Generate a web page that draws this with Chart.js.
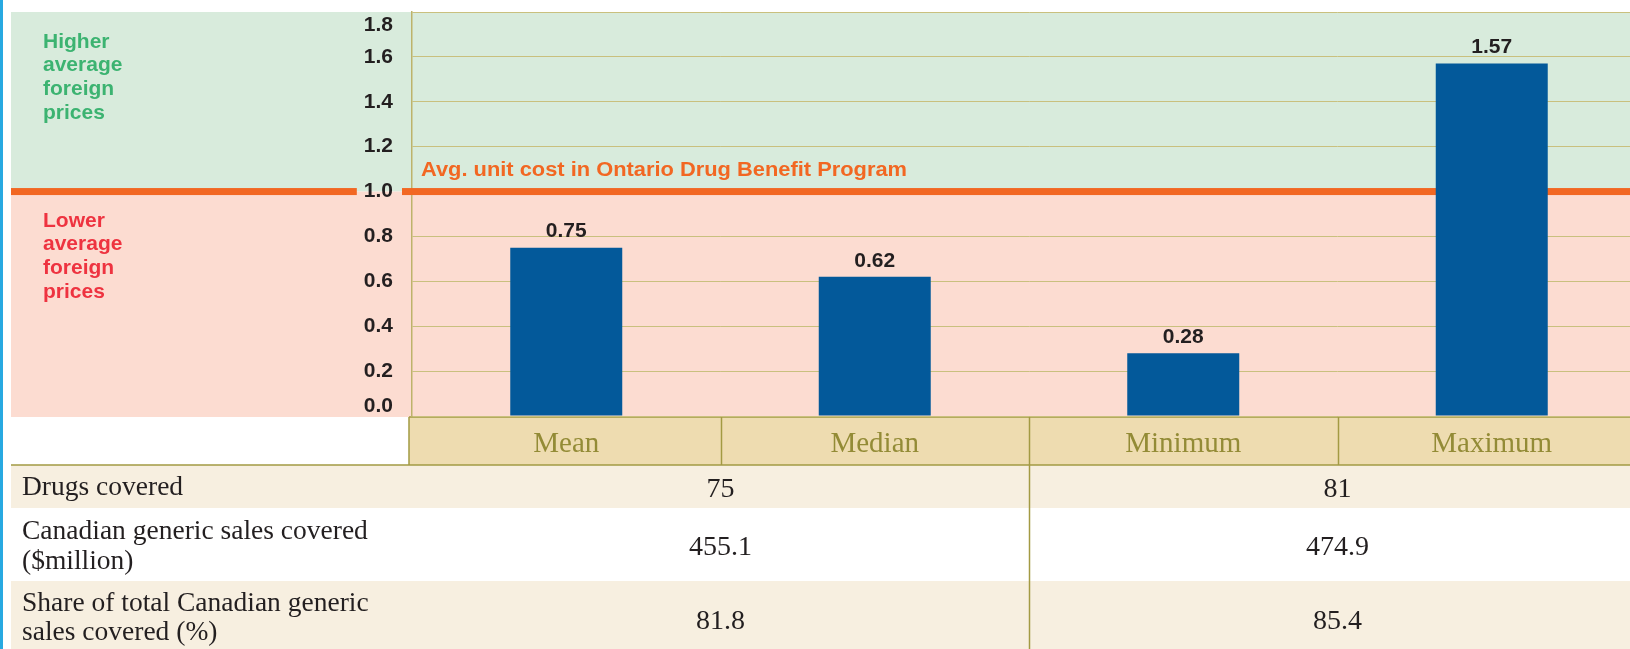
<!DOCTYPE html>
<html><head><meta charset="utf-8">
<script src="https://cdn.jsdelivr.net/npm/chart.js@4"></script>
<style>
html,body{margin:0;padding:0;overflow:hidden;background:#fff;width:1630px;height:649px}
#wrap{position:relative;width:1650px;height:649px}
canvas{display:block}
</style></head><body>
<div id="wrap"><canvas id="c" width="1650" height="649"></canvas></div>
<script>
// ---- data ----
const categories = ['Mean', 'Median', 'Minimum', 'Maximum'];
const ratios = [0.75, 0.62, 0.28, 1.57];
const yTicks = [0.0, 0.2, 0.4, 0.6, 0.8, 1.0, 1.2, 1.4, 1.6, 1.8];
const referenceLevel = 1.0;
const referenceLabel = 'Avg. unit cost in Ontario Drug Benefit Program';
const higherLabel = ['Higher', 'average', 'foreign', 'prices'];
const lowerLabel = ['Lower', 'average', 'foreign', 'prices'];
const rowLabels = [['Drugs covered'], ['Canadian generic sales covered', '($million)'], ['Share of total Canadian generic', 'sales covered (%)']];
const groupMeanMedian = ['75', '455.1', '81.8'];
const groupMinMax = ['81', '474.9', '85.4'];

// ---- styles ----
const C = {
  cyan: '#27a9e1', green: '#d8ebdc', pink: '#fcdcd1', orange: '#f26722',
  greenText: '#3cb371', redText: '#ee3340', bar: '#03599a', grid: '#c9c07e',
  axis: '#bdb36b', header: '#eedcb0', row: '#f7efe0', line: '#a39a43',
  headText: '#938b36', text: '#231f20'
};
const SANS = '"Liberation Sans", Arial, sans-serif';
const SERIF = '"Liberation Serif", "Times New Roman", serif';
const rowsGeom = [{top: 465, h: 43, fill: C.row}, {top: 508, h: 73, fill: '#ffffff'}, {top: 581, h: 90, fill: C.row}];
const rowTextY = [[488], [532, 562], [604, 633]];
const rowValueY = [490, 548, 622];

const decor = {
  id: 'decor',
  beforeDraw(chart) {
    const {ctx, chartArea: a, scales: {x, y}} = chart;
    const W = chart.width, H = chart.height;
    ctx.save();
    ctx.fillStyle = '#fff'; ctx.fillRect(0, 0, W, H);
    ctx.fillStyle = C.cyan; ctx.fillRect(0, 0, 3, H);
    const yTop = y.getPixelForValue(y.max), yRef = y.getPixelForValue(referenceLevel), y0 = y.getPixelForValue(0);
    ctx.fillStyle = C.green; ctx.fillRect(11, yTop, W - 11, yRef - yTop);
    ctx.fillStyle = C.pink; ctx.fillRect(11, yRef, W - 11, y0 - yRef + 1);
    // table
    const hTop = y0 + 1, hBot = rowsGeom[0].top;
    const hl = a.left - 3;
    ctx.fillStyle = C.header; ctx.fillRect(hl, hTop, W - hl, hBot - hTop);
    rowsGeom.forEach(r => { ctx.fillStyle = r.fill; ctx.fillRect(11, r.top, W - 11, r.h); });
    ctx.strokeStyle = C.line; ctx.lineWidth = 1.5;
    ctx.beginPath();
    ctx.moveTo(hl, hTop); ctx.lineTo(W, hTop);
    ctx.moveTo(11, hBot); ctx.lineTo(W, hBot);
    ctx.moveTo(hl, hTop); ctx.lineTo(hl, hBot);
    const step = x.getPixelForValue(1) - x.getPixelForValue(0);
    for (let i = 1; i < categories.length; i++) {
      const bx = Math.round(x.getPixelForValue(i) - step / 2) + 0.5;
      ctx.moveTo(bx, hTop);
      ctx.lineTo(bx, i === 2 ? H : hBot);
    }
    ctx.stroke();
    // row labels & values
    ctx.fillStyle = C.text; ctx.textBaseline = 'middle';
    ctx.textAlign = 'left'; ctx.font = '27.5px ' + SERIF;
    rowLabels.forEach((lines, i) => lines.forEach((t, j) => ctx.fillText(t, 22, rowTextY[i][j])));
    ctx.textAlign = 'center'; ctx.font = '28px ' + SERIF;
    const gA = (x.getPixelForValue(0) + x.getPixelForValue(1)) / 2;
    const gB = (x.getPixelForValue(2) + x.getPixelForValue(3)) / 2;
    groupMeanMedian.forEach((v, i) => ctx.fillText(v, gA, rowValueY[i]));
    groupMinMax.forEach((v, i) => ctx.fillText(v, gB, rowValueY[i]));
    // side labels
    ctx.textAlign = 'left'; ctx.font = 'bold 21px ' + SANS;
    ctx.fillStyle = C.greenText;
    higherLabel.forEach((t, i) => ctx.fillText(t, 43, 42 + i * 23.7));
    ctx.fillStyle = C.redText;
    lowerLabel.forEach((t, i) => ctx.fillText(t, 43, 221 + i * 23.7));
    ctx.restore();
  },
  beforeDatasetsDraw(chart) {
    const {ctx, chartArea: a, scales: {y}} = chart;
    const yRef = y.getPixelForValue(referenceLevel);
    ctx.save();
    ctx.font = 'bold 21px ' + SANS;
    const lw = ctx.measureText(y.options.ticks.callback(referenceLevel)).width;
    ctx.fillStyle = C.orange;
    ctx.fillRect(11, yRef - 3.5, 393 - lw - 7 - 11, 7);
    ctx.fillRect(402, yRef - 3.5, chart.width - 402, 7);
    // reference label (condensed)
    ctx.font = 'bold 20px ' + SANS; ctx.textBaseline = 'middle'; ctx.textAlign = 'left';
    const w = ctx.measureText(referenceLabel).width;
    ctx.translate(a.left + 9, yRef - 21);
    ctx.scale(486 / w, 1);
    ctx.fillText(referenceLabel, 0, 0);
    ctx.restore();
  },
  afterDatasetsDraw(chart) {
    const {ctx, scales: {y}} = chart;
    ctx.save();
    ctx.font = 'bold 21px ' + SANS; ctx.fillStyle = C.text;
    ctx.textAlign = 'center'; ctx.textBaseline = 'middle';
    chart.getDatasetMeta(0).data.forEach((bar, i) => {
      ctx.fillText(ratios[i].toFixed(2), bar.x, bar.y - 16);
    });
    // y tick labels
    ctx.textAlign = 'right';
    y.ticks.forEach((t, i) => {
      let py = y.getPixelForValue(t.value);
      if (i === y.ticks.length - 1) py += 13;
      if (i === 0) py -= 10;
      ctx.fillText(y.options.ticks.callback(t.value), 393, py);
    });
    ctx.restore();
  }
};

new Chart(document.getElementById('c'), {
  type: 'bar',
  data: {
    labels: categories,
    datasets: [{data: ratios, backgroundColor: C.bar, borderWidth: 0, barPercentage: 0.363, categoryPercentage: 1}]
  },
  options: {
    responsive: false, animation: false, devicePixelRatio: 1,
    layout: {padding: {top: 12, right: 4, bottom: 183, left: 0}},
    plugins: {legend: {display: false}, tooltip: {enabled: false}},
    scales: {
      x: {
        grid: {display: false, drawTicks: false}, border: {display: false},
        ticks: {color: C.headText, font: {family: SERIF, size: 29}, padding: 11, maxRotation: 0},
        afterFit: s => { s.height = 50; }
      },
      y: {
        min: 0, max: 1.8,
        afterBuildTicks: s => { s.ticks = yTicks.map(v => ({value: v})); },
        ticks: {display: false, callback: v => Number(v).toFixed(1)},
        grid: {color: C.grid, lineWidth: 1, drawTicks: false},
        border: {display: true, color: C.axis, width: 1.5},
        afterFit: s => { s.width = 412; }
      }
    }
  },
  plugins: [decor]
});
</script>
</body></html>
